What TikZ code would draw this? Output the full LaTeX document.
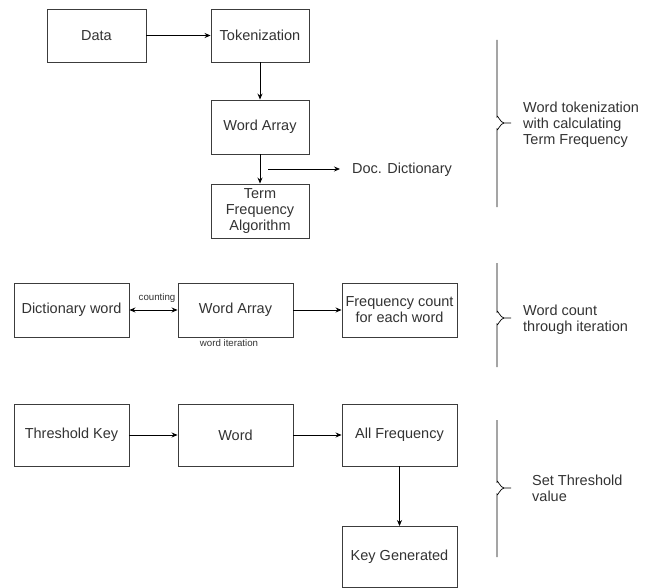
\documentclass[tikz,border=0pt]{standalone}
\usepackage{fontspec}
\setmainfont{Liberation Sans}
\usetikzlibrary{arrows.meta}
\definecolor{ink}{RGB}{51,51,51}
\definecolor{edge}{RGB}{60,60,60}
\tikzset{
  box/.style={draw=edge, line width=0.9pt, fill=white, inner sep=2pt,
    align=center, text=ink, font=\fontsize{14.5}{16}\selectfont},
  flow/.style={draw=black, line width=0.8pt, -{Stealth[length=6pt,width=5pt]}},
  twoway/.style={draw=black, line width=0.8pt, {Stealth[length=6pt,width=5pt]}-{Stealth[length=6pt,width=5pt]}},
  note/.style={text=ink, font=\fontsize{14.5}{16}\selectfont, align=left, inner sep=0pt},
  small/.style={text=ink, font=\fontsize{9.7}{11}\selectfont, inner sep=0pt},
  bracket/.style={draw=black, line width=0.7pt}
}
\begin{document}
\begin{tikzpicture}[x=1pt, y=-1pt]
\useasboundingbox (0,0) rectangle (655,588);

% --- Stage 1: tokenization and term frequency
\node[box, minimum width=99pt, minimum height=53pt] (data) at (96.5,35.5) {Data};
\node[box, minimum width=98pt, minimum height=53pt] (tok) at (260,35.5) {Tokenization};
\node[box, minimum width=98pt, minimum height=54pt] (wa1) at (260,127) {Word Array};
\node[box, minimum width=98pt, minimum height=54pt] (tf) at (260,211) {Term\\Frequency\\Algorithm};
\node[note, anchor=west] (docdict) at (352,170) {Doc. Dictionary};
\coordinate (docstart) at (268,169);

\draw[flow] (data) -- (tok);
\draw[flow] (tok) -- (wa1);
\draw[flow] (wa1) -- (tf);
\draw[flow] (docstart) -- ([xshift=-12pt]docdict.west |- docstart);

% --- Stage 2: counting words
\node[box, minimum width=115pt, minimum height=54pt] (dw) at (71.5,310) {Dictionary word};
\node[box, minimum width=115pt, minimum height=54pt] (wa2) at (235.5,310) {Word Array};
\node[box, minimum width=115pt, minimum height=54pt] (fc) at (399.5,310) {Frequency count\\for each word};
\node[small] (counting) at (157,298) {counting};
\node[small] (iter) at (229,343) {word iteration};

\draw[twoway] (dw) -- (wa2);
\draw[flow] (wa2) -- (fc);

% --- Stage 3: threshold
\node[box, minimum width=115pt, minimum height=62pt] (tk) at (71.5,435) {Threshold Key};
\node[box, minimum width=115pt, minimum height=62pt] (w3) at (235.5,435) {Word};
\node[box, minimum width=115pt, minimum height=62pt] (af) at (399.5,435) {All Frequency};
\node[box, minimum width=115pt, minimum height=61pt] (kg) at (399.5,557) {Key Generated};

\draw[flow] (tk) -- (w3);
\draw[flow] (w3) -- (af);
\draw[flow] (af) -- (kg);

% --- Curly brackets with their captions
\draw[bracket] (497,40) -- (497,117) to[out=90,in=180] (504,123) -- (511,123);
\draw[bracket] (497,207) -- (497,129) to[out=-90,in=180] (504,123);
\node[note, anchor=west] (cap1) at (523,125) {Word tokenization\\with calculating\\Term Frequency};

\draw[bracket] (497,263) -- (497,312) to[out=90,in=180] (504,318) -- (511,318);
\draw[bracket] (497,367) -- (497,324) to[out=-90,in=180] (504,318);
\node[note, anchor=west] (cap2) at (523,319.5) {Word count\\through iteration};

\draw[bracket] (497,420) -- (497,482) to[out=90,in=180] (504,488) -- (511,488);
\draw[bracket] (497,557) -- (497,494) to[out=-90,in=180] (504,488);
\node[note, anchor=west] (cap3) at (532,488.5) {Set Threshold\\value};
\end{tikzpicture}
\end{document}
